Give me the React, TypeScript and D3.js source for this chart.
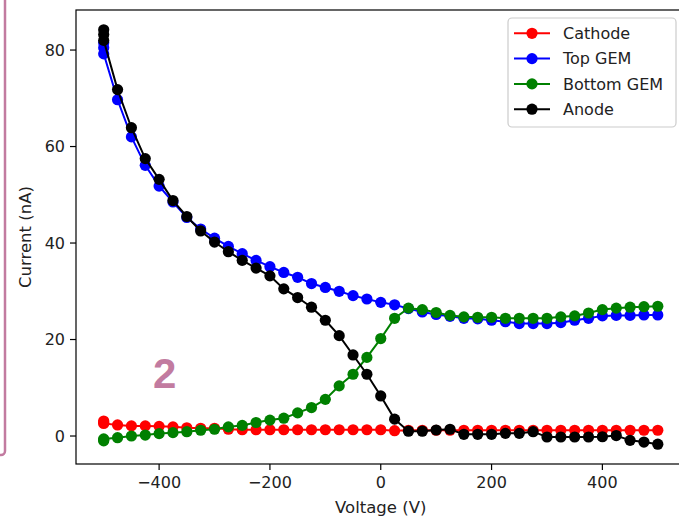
import React from "react";
import * as d3 from "d3";

// voltage steps (the -500 V point was measured three times)
const voltages = [
  -500, -500, -500, -475, -450, -425, -400, -375, -350, -325, -300, -275, -250,
  -225, -200, -175, -150, -125, -100, -75, -50, -25, 0, 25, 50, 75, 100, 125,
  150, 175, 200, 225, 250, 275, 300, 325, 350, 375, 400, 425, 450, 475, 500,
];

const cathode = [
  3.1, 2.8, 2.6, 2.3, 2.1, 2.1, 2.0, 1.9, 1.7, 1.6, 1.6, 1.4, 1.3,
  1.3, 1.3, 1.3, 1.3, 1.3, 1.3, 1.3, 1.3, 1.3, 1.3,
  1.1, 1.2, 1.2, 1.2, 1.2, 1.2, 1.2, 1.2, 1.2, 1.2,
  1.2, 1.2, 1.2, 1.2, 1.2, 1.2, 1.2, 1.2, 1.2, 1.2,
];

const topGem = [
  81.5, 80.5, 79.2, 69.7, 62.0, 56.1, 51.8, 48.5, 45.3, 42.9, 41.0, 39.3, 37.8,
  36.4, 35.1, 33.9, 32.9, 31.6, 30.8, 30.0, 29.1, 28.4, 27.7,
  27.2, 26.4, 25.7, 25.2, 24.8, 24.4, 24.3, 24.0, 23.7, 23.3,
  23.3, 23.3, 23.5, 24.0, 24.4, 24.9, 25.0, 25.0, 25.1, 25.1,
];

const bottomGem = [
  -1.0, -0.8, -0.6, -0.35, 0.0, 0.2, 0.5, 0.7, 0.9, 1.2, 1.4, 1.9, 2.2,
  2.8, 3.3, 3.7, 4.8, 5.9, 7.6, 10.4, 12.8, 16.3, 20.2,
  24.4, 26.5, 26.2, 25.6, 25.0, 24.7, 24.6, 24.6, 24.4, 24.4,
  24.4, 24.4, 24.7, 24.9, 25.5, 26.2, 26.5, 26.7, 26.8, 26.9,
];

const anode = [
  84.2, 83.2, 82.0, 71.8, 63.9, 57.5, 53.2, 48.8, 45.5, 42.5, 40.2, 38.2, 36.4,
  34.8, 33.2, 30.5, 28.7, 26.7, 24.0, 20.8, 16.8, 12.8, 8.3,
  3.5, 1.0, 1.0, 1.25, 1.4, 0.35, 0.35, 0.35, 0.55, 0.55,
  0.9, -0.2, -0.2, -0.2, -0.2, -0.15, 0.1, -0.9, -1.25, -1.7,
];

const seriesNames = ["Cathode", "Top GEM", "Bottom GEM", "Anode"];
const seriesColors = ["#ff0000", "#0000ff", "#008000", "#000000"];
const seriesValues = [cathode, topGem, bottomGem, anode];

const xTicks = [-400, -200, 0, 200, 400];
const yTicks = [0, 20, 40, 60, 80];

const W = 679;
const H = 516;
const left = 76;
const right = 685.5;
const top = 10;
const bottom = 464;
const font = "DejaVu Sans, sans-serif";
const pink = "#c27ba0";
const markerR = 5.6;

const App = () => {
  const x = d3.scaleLinear().domain([-550, 550]).range([left, right]);
  const y = d3.scaleLinear().domain([-5.8, 88.3]).range([bottom, top]);

  const line = d3
    .line<number>()
    .x((d, i) => x(voltages[i]))
    .y(d => y(d));

  const fmt = (v: number) => (v < 0 ? "\u2212" + Math.abs(v) : String(v));

  return (
    <svg
      width={W}
      height={H}
      style={{ position: "absolute", left: 0, top: 0, background: "#fff" }}
      fontFamily={font}
    >
      <rect x={0} y={0} width={W} height={H} fill="#fff" />

      {/* panel border from the figure this was cut from */}
      <rect x={-20} y={-20} width={25} height={475} rx={4} fill="none" stroke={pink} strokeWidth={2.5} />
      <text x={153} y={388} fontFamily="Liberation Sans, Arial, sans-serif" fontWeight="bold" fontSize={42} fill={pink}>
        2
      </text>

      <defs>
        <clipPath id="plot">
          <rect x={left} y={top} width={right - left} height={bottom - top} />
        </clipPath>
      </defs>

      <g clipPath="url(#plot)">
        {seriesValues.map((vals, si) => (
          <g key={seriesNames[si]}>
            <path d={line(vals) || ""} fill="none" stroke={seriesColors[si]} strokeWidth={2} />
            {vals.map((v, i) => (
              <circle key={i} cx={x(voltages[i])} cy={y(v)} r={markerR} fill={seriesColors[si]} />
            ))}
          </g>
        ))}
      </g>

      {/* frame */}
      <rect x={left} y={top} width={right - left} height={bottom - top} fill="none" stroke="#000" strokeWidth={1.2} />

      {/* x axis */}
      {xTicks.map(t => (
        <g key={t}>
          <line x1={x(t)} x2={x(t)} y1={bottom} y2={bottom + 6} stroke="#000" strokeWidth={1.2} />
          <text x={x(t)} y={bottom + 24} textAnchor="middle" fontSize={16} fill="#222">
            {fmt(t)}
          </text>
        </g>
      ))}
      <text x={(left + right) / 2} y={513} textAnchor="middle" fontSize={16.5} fill="#222">
        Voltage (V)
      </text>

      {/* y axis */}
      {yTicks.map(t => (
        <g key={t}>
          <line x1={left - 6} x2={left} y1={y(t)} y2={y(t)} stroke="#000" strokeWidth={1.2} />
          <text x={left - 11} y={y(t)} dy="0.36em" textAnchor="end" fontSize={16} fill="#222">
            {fmt(t)}
          </text>
        </g>
      ))}
      <text
        transform={`translate(31, ${(top + bottom) / 2}) rotate(-90)`}
        textAnchor="middle"
        fontSize={16.5}
        fill="#222"
      >
        Current (nA)
      </text>

      {/* legend */}
      <g>
        <rect x={508} y={18} width={168} height={109} rx={4} fill="#fff" fillOpacity={0.8} stroke="#ccc" strokeWidth={1.2} />
        {seriesNames.map((name, i) => {
          const ly = 33.3 + i * 25.3;
          return (
            <g key={name}>
              <line x1={514} x2={550} y1={ly} y2={ly} stroke={seriesColors[i]} strokeWidth={2} />
              <circle cx={532} cy={ly} r={markerR} fill={seriesColors[i]} />
              <text x={563} y={ly} dy="0.36em" fontSize={16} fill="#222">
                {name}
              </text>
            </g>
          );
        })}
      </g>
    </svg>
  );
};

export default App;
